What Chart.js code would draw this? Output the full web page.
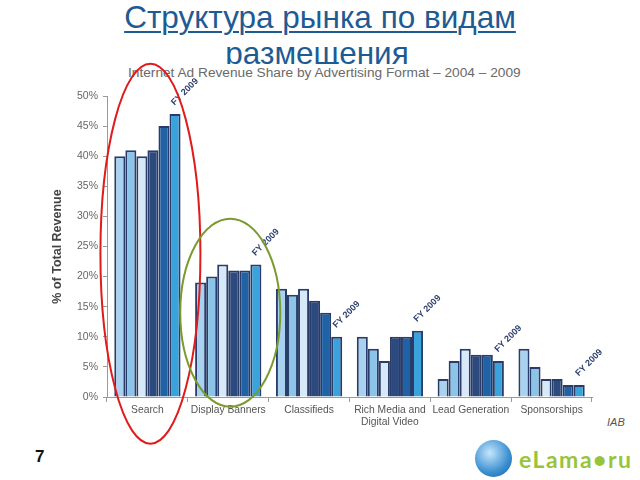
<!DOCTYPE html>
<html>
<head>
<meta charset="utf-8">
<script src="https://cdn.jsdelivr.net/npm/chart.js@4/dist/chart.umd.min.js"></script>
<style>
  body { margin: 0; background: #fff; width: 640px; height: 480px; overflow: hidden; position: relative; font-family: "Liberation Sans", Arial, sans-serif; }
  #wrap { position: absolute; left: 0; top: 0; width: 640px; height: 480px; z-index: 2; }
  .title { position: absolute; left: 0; width: 640px; text-align: center; color: #1f5b93; font-size: 31.5px; line-height: 34px; }
  #t1 { top: 0px; }
  #t1 span { text-decoration: underline; text-decoration-thickness: 2px; text-underline-offset: 3px; }
  #t2 { top: 36px; left: -3px; }
  #sub { position: absolute; left: 128px; width: 400px; white-space: nowrap; top: 64px; height: 18px; line-height: 18px; font-size: 13.7px; color: #6a6a6a; background: #fff; }
  #num { position: absolute; left: 35px; top: 447px; font-size: 17px; font-weight: bold; color: #111; }
  #iab { position: absolute; left: 607px; top: 416px; font-size: 11px; font-style: italic; color: #555; }
  #logo { position: absolute; left: 475px; top: 440px; }
  #globe { position: absolute; left: 0; top: 0; width: 37px; height: 37px; border-radius: 50%; background: radial-gradient(circle at 40% 35%, #c4e6fc, #3a8fd0 60%, #1d5f9e); }
  #brand { position: absolute; left: 44px; top: 5px; font-size: 23px; font-weight: bold; color: #98c43c; font-family: "Lato", sans-serif; letter-spacing: 1.5px; white-space: nowrap; }
</style>
</head>
<body>
<div id="wrap"><canvas id="c" width="640" height="480"></canvas></div>
<div class="title" id="t1"><span>Структура рынка по видам</span></div>
<div class="title" id="t2">размещения</div>
<div id="sub">Internet Ad Revenue Share by Advertising Format – 2004 – 2009</div>
<div id="iab">IAB</div>
<div id="num">7</div>
<div id="logo"><div id="globe"></div><div id="brand">eLama•ru</div></div>
<script>
// data (% of total revenue)
const categories = ['Search', 'Display Banners', 'Classifieds', ['Rich Media and', 'Digital Video'], 'Lead Generation', 'Sponsorships'];
const years = ['2004', '2005', '2006', '2007', '2008', '2009'];
const fy2004 = [40, 19, 18, 10, 3, 8];
const fy2005 = [41, 20, 17, 8, 6, 5];
const fy2006 = [40, 22, 18, 6, 8, 3];
const fy2007 = [41, 21, 16, 10, 7, 3];
const fy2008 = [45, 21, 14, 10, 7, 2];
const fy2009 = [47, 22, 10, 11, 6, 2];
const yTicks = [0, 5, 10, 15, 20, 25, 30, 35, 40, 45, 50];

const fills = ['#a8d2ef', '#8cc3e8', '#d7e9f8', '#2d4a7e', '#1f62a6', '#3ba3dc'];
const seriesList = [fy2004, fy2005, fy2006, fy2007, fy2008, fy2009];

const FONT = '"Liberation Sans", Arial, sans-serif';
Chart.defaults.font.family = FONT;

const datasets = seriesList.map((vals, i) => ({
  label: years[i],
  data: vals,
  backgroundColor: fills[i],
  borderColor: '#2a3d6a',
  borderWidth: 2,
  borderSkipped: 'bottom',
  categoryPercentage: 0.82,
  barPercentage: 1.0
}));

// FY 2009 tags + the hand-drawn ellipses
const marks = {
  id: 'marks',
  afterDraw(chart) {
    const ctx = chart.ctx;
    const meta = chart.getDatasetMeta(5);
    ctx.save();
    ctx.font = 'bold 9px ' + FONT;
    ctx.fillStyle = '#2d3f6e';
    meta.data.forEach(bar => {
      ctx.save();
      ctx.translate(bar.x + 1, bar.y - 7);
      ctx.rotate(-Math.PI / 4);
      ctx.textBaseline = 'bottom';
      ctx.fillText('FY 2009', 0, 0);
      ctx.restore();
    });
    const xs = chart.scales.x, ys = chart.scales.y;
    // red one around Search
    ctx.strokeStyle = '#e01b1b';
    ctx.lineWidth = 2;
    ctx.beginPath();
    ctx.ellipse(xs.getPixelForValue(0) + 3, ys.getPixelForValue(23.8), 50, 190, 0, 0, Math.PI * 2);
    ctx.stroke();
    // green one around Display Banners
    ctx.strokeStyle = '#7a9a2e';
    ctx.beginPath();
    ctx.ellipse(xs.getPixelForValue(1) + 2, ys.getPixelForValue(14), 50, 94, 0, 0, Math.PI * 2);
    ctx.stroke();
    ctx.restore();
  }
};

function draw() {
  new Chart(document.getElementById('c'), {
    type: 'bar',
    data: { labels: categories, datasets: datasets },
    options: {
      responsive: false,
      animation: false,
      layout: { padding: { left: 50, top: 96, right: 48, bottom: 48 } },
      plugins: { legend: { display: false }, tooltip: { enabled: false } },
      scales: {
        x: {
          afterFit: s => { s.height = 35; },
          grid: { display: true, drawOnChartArea: false, offset: true, color: '#9a9a9a', tickLength: 5 },
          border: { color: '#9a9a9a' },
          ticks: { color: '#555', font: { size: 10.3 }, padding: 2, maxRotation: 0 }
        },
        y: {
          min: 0, max: 50,
          afterFit: s => { s.width = 57; },
          afterBuildTicks: s => { s.ticks = yTicks.map(v => ({ value: v })); },
          grid: { display: true, drawOnChartArea: false, color: '#9a9a9a', tickLength: 4 },
          border: { color: '#9a9a9a' },
          ticks: { color: '#666', font: { size: 10.5 }, padding: 5, callback: v => v + '%' },
          title: { display: true, text: '% of Total Revenue', color: '#444', font: { size: 12.5, weight: 'bold' }, padding: 0 }
        }
      }
    },
    plugins: [marks]
  });
}

Promise.all([
  document.fonts.load('10px "Liberation Sans"'),
  document.fonts.load('bold 10px "Liberation Sans"')
]).then(draw, draw);
</script>
</body>
</html>
